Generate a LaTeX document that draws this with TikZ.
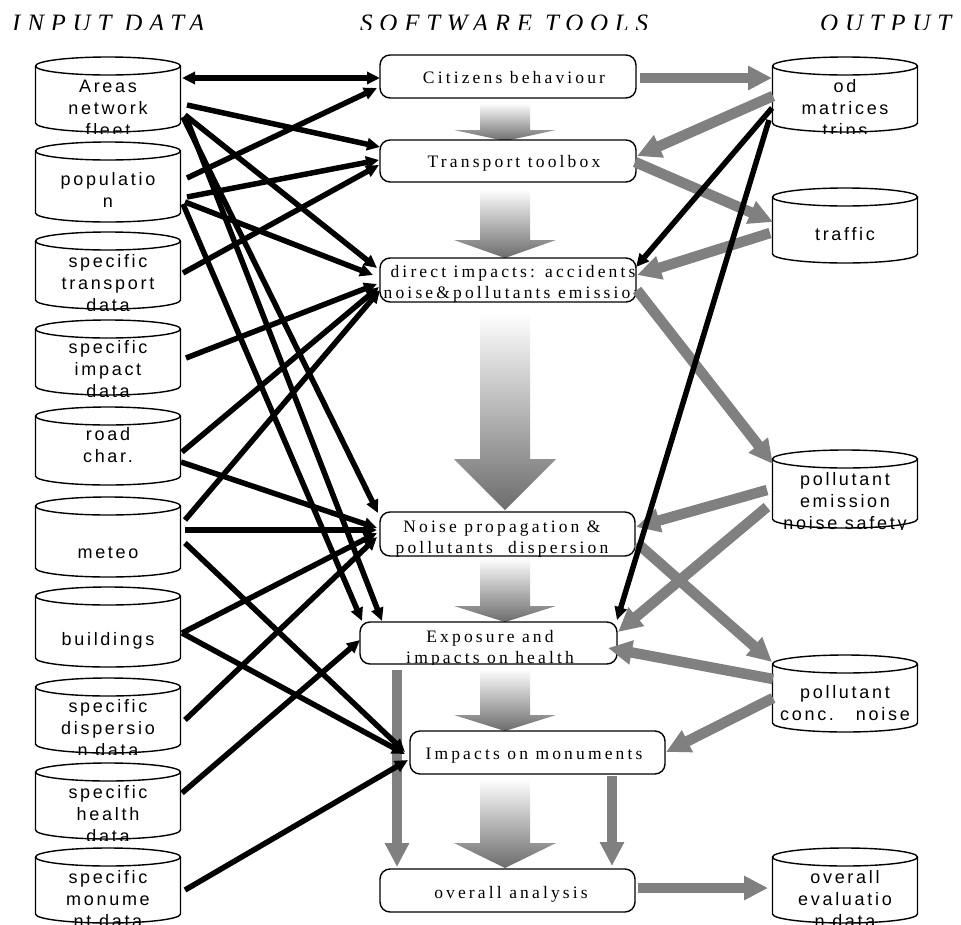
\documentclass[tikz,border=0pt]{standalone}
\usepackage{fontspec}
\usetikzlibrary{arrows.meta,calc}
\newfontfamily\cylfont[LetterSpace=15]{Liberation Sans}
\newfontfamily\boxfont[LetterSpace=18]{Liberation Serif}
\newfontfamily\headfont[LetterSpace=27]{Liberation Serif}
\definecolor{arrgray}{RGB}{128,128,128}
\definecolor{shadegray}{RGB}{108,108,108}

\tikzset{
  cylbody/.style={rectangle, draw=none, inner sep=0pt, outer sep=0pt, minimum width=145pt},
  toolbox/.style={rectangle, rounded corners=10pt, draw=black, line width=1.4pt, fill=white, inner sep=0pt, outer sep=0pt},
  cyltext/.style={anchor=base, inner sep=0pt, font=\cylfont\fontsize{18}{22}\selectfont},
  tooltext/.style={anchor=base, inner sep=0pt, font=\boxfont\fontsize{17.5}{21}\selectfont},
  headtext/.style={anchor=base west, inner sep=0pt, font=\headfont\itshape\fontsize{25}{30}\selectfont},
  blk/.style={line width=5.5pt, draw=black, -{Triangle[length=13pt,width=12pt]}},
  blkboth/.style={line width=5.5pt, draw=black, {Triangle[length=13pt,width=12pt]}-{Triangle[length=13pt,width=12pt]}},
  gry/.style={line width=10.5pt, draw=arrgray, -{Triangle[length=24pt,width=23pt]}},
}

% cylinder: name, cx, top, bottom, first baseline offset, lines
\newcommand\dbcyl[6]{%
  \node[cylbody, minimum height={#4-#3}] (#1) at (#2,{(#3+#4)/2}) {};
  \fill[white] ($(#1.north west)+(0,9)$) -- ($(#1.south west)+(0,-9)$)
     arc[start angle=180, end angle=360, x radius=72.5pt, y radius=9pt]
     -- ($(#1.north east)+(0,9)$)
     arc[start angle=0, end angle=180, x radius=72.5pt, y radius=9pt] -- cycle;
  \begin{scope}
    \clip ($(#1.north west)+(-40,0)$) rectangle ($(#1.south east)+(40,1)$);
    \node[cyltext] (#1-t) at ($(#1.north)+(0,#5)$) {\begin{tabular}[t]{@{}c@{}}#6\end{tabular}};
  \end{scope}
  \draw[line width=1.4pt, line join=round] ($(#1.north west)+(0,9)$) -- ($(#1.south west)+(0,-9)$)
     arc[start angle=180, end angle=360, x radius=72.5pt, y radius=9pt]
     -- ($(#1.north east)+(0,9)$)
     arc[start angle=0, end angle=180, x radius=72.5pt, y radius=9pt] -- cycle;
  \draw[line width=1.4pt] ($(#1.north west)+(0,9)$)
     arc[start angle=180, end angle=360, x radius=72.5pt, y radius=9pt];
}

% tool box: name, cx, cy, width, height
\newcommand\toolbx[5]{%
  \node[toolbox, minimum width=#4pt, minimum height=#5pt] (#1) at (#2,#3) {};
}

% gradient block arrow: shaft top, head start, tip
\newcommand\gradarrow[3]{%
  \shade[top color=white, bottom color=shadegray]
    (480,#1) -- (480,#2) -- (454,#2) -- (505,#3) -- (556,#2) -- (530,#2) -- (530,#1) -- cycle;
}

\begin{document}
\begin{tikzpicture}[x=1pt, y=-1pt]
\useasboundingbox (0,0) rectangle (961,924);

% gradient flow arrows (under the boxes)
\gradarrow{103}{130}{141}
\gradarrow{189}{240}{258}
\gradarrow{313}{459}{510}
\gradarrow{558}{606}{622}
\gradarrow{669}{715}{731}
\gradarrow{779}{843}{868}

% software tool boxes
\toolbx{cit}{508}{76.5}{256}{43}
\toolbx{tra}{508}{161}{256}{42}
\toolbx{dir}{508}{280}{256}{44}
\toolbx{noi}{507.5}{534}{255}{44}
\toolbx{exp}{488.5}{643}{257}{42}
\toolbx{mon}{537.5}{752.5}{255}{43}
\toolbx{ova}{507.5}{890.5}{255}{43}

\begin{scope}
  \clip[rounded corners=10pt] (cit.south west) rectangle (cit.north east);
  \node[tooltext] (cit-t) at (514,83) {Citizens behaviour};
\end{scope}
\begin{scope}
  \clip[rounded corners=10pt] (tra.south west) rectangle (tra.north east);
  \node[tooltext] (tra-t) at (514,167) {Transport toolbox};
\end{scope}
\begin{scope}
  \clip[rounded corners=10pt] (dir.south west) rectangle (dir.north east);
  \node[tooltext] (dir-t) at (513,277) {\begin{tabular}[t]{@{}c@{}}direct impacts: accidents\\noise\&pollutants emission\end{tabular}};
\end{scope}
\begin{scope}
  \clip[rounded corners=10pt] (noi.south west) rectangle (noi.north east);
  \node[tooltext] (noi-t) at (502,532) {\begin{tabular}[t]{@{}c@{}}Noise propagation \&\\pollutants\ \ dispersion\end{tabular}};
\end{scope}
\begin{scope}
  \clip[rounded corners=10pt] (exp.south west) rectangle (exp.north east);
  \node[tooltext] (exp-t) at (490,642) {\begin{tabular}[t]{@{}c@{}}Exposure and\\impacts on health\end{tabular}};
\end{scope}
\begin{scope}
  \clip[rounded corners=10pt] (mon.south west) rectangle (mon.north east);
  \node[tooltext] (mon-t) at (534,759) {Impacts on monuments};
\end{scope}
\begin{scope}
  \clip[rounded corners=10pt] (ova.south west) rectangle (ova.north east);
  \node[tooltext] (ova-t) at (511,898) {overall analysis};
\end{scope}

% input data cylinders
\dbcyl{areas}{108}{57}{132}{35}{Areas\\network\\fleet}
\dbcyl{pop}{108}{142}{222}{43}{populatio\\n}
\dbcyl{stra}{108}{232}{309}{35}{specific\\transport\\data}
\dbcyl{simp}{108}{320}{395}{33}{specific\\impact\\data}
\dbcyl{road}{108}{407}{485}{33}{road\\char.}
\dbcyl{meteo}{108}{497}{577}{61}{meteo}
\dbcyl{bldg}{108}{587}{667}{58}{buildings}
\dbcyl{sdis}{108}{678}{753}{34}{specific\\dispersio\\n data}
\dbcyl{shea}{108}{763}{839}{35}{specific\\health\\data}
\dbcyl{smon}{108}{848}{923}{35}{specific\\monume\\nt data}

% output cylinders
\dbcyl{od}{845}{57}{132}{35}{od\\matrices\\trips}
\dbcyl{traf}{845}{188}{263}{52}{traffic}
\dbcyl{pem}{845}{450}{528}{35}{pollutant\\emission\\noise safety}
\dbcyl{pcon}{845}{655}{732}{43}{pollutant\\conc.\hspace{22pt}noise}
\dbcyl{oev}{845}{848}{923}{35}{overall\\evaluatio\\n data}

% grey flow arrows
\draw[gry] ($(cit.east)+(4,1.5)$) -- ($(od.west)+(-0.5,-16.5)$);
\draw[gry] ($(od.west)+(0.5,1.5)$) -- ($(tra.east)+(1,-5)$);
\draw[gry] ($(tra.east)+(-1,1)$) -- ($(traf.west)+(0.5,-3.5)$);
\draw[gry] ($(traf.west)+(-2.5,7.5)$) -- ($(dir.east)+(1,-5)$);
\draw[gry] ($(dir.east)+(1,10)$) -- ($(pem.west)+(0.5,-25)$);
\draw[gry] ($(pem.west)+(-5.5,1)$) -- ($(noi.east)+(1,-7)$);
\draw[gry] ($(pem.west)+(-5.5,18)$) -- ($(exp.east)+(1,-11)$);
\draw[gry] ($(noi.east)+(2,9)$) -- ($(pcon.west)+(-0.5,-31.5)$);
\draw[gry] ($(pcon.west)+(0.5,-14.5)$) -- ($(exp.east)+(-9,5)$);
\draw[gry] ($(pcon.west)+(0.5,4.5)$) -- ($(mon.east)+(1,-0.5)$);
\draw[gry] ($(exp.south west)+(37,6)$) -- ($(ova.north west)+(17,-2)$);
\draw[gry] ($(mon.south west)+(202,2)$) -- ($(ova.north east)+(-23,-3)$);
\draw[gry] ($(ova.east)+(3,-2.5)$) -- ($(oev.west)+(-4.5,2.5)$);

% black data arrows
\draw[blkboth] ($(areas.east)+(1.5,-16.5)$) -- ($(cit.west)+(0,1.5)$);
\draw[blk] ($(areas.east)+(6.5,10.5)$) -- ($(tra.west)+(0,-14)$);
\draw[blk] ($(areas.east)+(4.5,20.5)$) -- ($(dir.west)+(-3,-12)$);
\draw[blk] ($(areas.east)+(2.5,22.5)$) -- ($(noi.west)+(-2,-21)$);
\draw[blk] ($(areas.east)+(5.5,22.5)$) -- ($(exp.north west)+(22,-1)$);
\draw[blk] ($(pop.east)+(6.5,-4)$) -- ($(cit.west)+(-3,11.5)$);
\draw[blk] ($(pop.east)+(6.5,15)$) -- ($(tra.west)+(-1,-1)$);
\draw[blk] ($(pop.east)+(4.5,20)$) -- ($(dir.west)+(-7,-5)$);
\draw[blk] ($(pop.east)+(2.5,22)$) -- ($(exp.north west)+(2,-1)$);
\draw[blk] ($(stra.east)+(2.5,2.5)$) -- ($(tra.west)+(-1,4)$);
\draw[blk] ($(simp.east)+(5.5,0.5)$) -- ($(dir.west)+(-3,4)$);
\draw[blk] ($(road.east)+(1.5,6)$) -- ($(dir.west)+(-1,7)$);
\draw[blk] ($(road.east)+(0.5,16)$) -- ($(noi.west)+(-3,-6)$);
\draw[blk] ($(meteo.east)+(4.5,-17)$) -- ($(dir.west)+(0,10)$);
\draw[blk] ($(meteo.east)+(4.5,-7)$) -- ($(noi.west)+(-3,-4)$);
\draw[blk] ($(meteo.east)+(4.5,6)$) -- ($(mon.west)+(-5,-0.5)$);
\draw[blk] ($(bldg.east)+(1.5,6)$) -- ($(noi.west)+(-3,-1)$);
\draw[blk] ($(bldg.east)+(1.5,6)$) -- ($(mon.west)+(-5,1.5)$);
\draw[blk] ($(sdis.east)+(4.5,4.5)$) -- ($(noi.west)+(-3,3)$);
\draw[blk] ($(shea.east)+(1.5,-8)$) -- ($(exp.west)+(0,-3)$);
\draw[blk] ($(smon.east)+(4.5,4.5)$) -- ($(mon.west)+(-2,7.5)$);
\draw[blk] ($(od.west)+(-0.5,13.5)$) -- ($(dir.east)+(0,-13)$);
\draw[blk] ($(od.west)+(-3.5,25.5)$) -- ($(exp.north east)+(0,-2)$);

% column headers
\begin{scope}
  \clip (0,0) rectangle (961,29.5);
  \node[headtext] (h-in) at (12,31) {INPUT DATA};
  \node[headtext] (h-sw) at (360,31) {SOFTWARE TOOLS};
  \node[headtext] (h-out) at (820,31) {OUTPUT};
\end{scope}
\end{tikzpicture}
\end{document}
